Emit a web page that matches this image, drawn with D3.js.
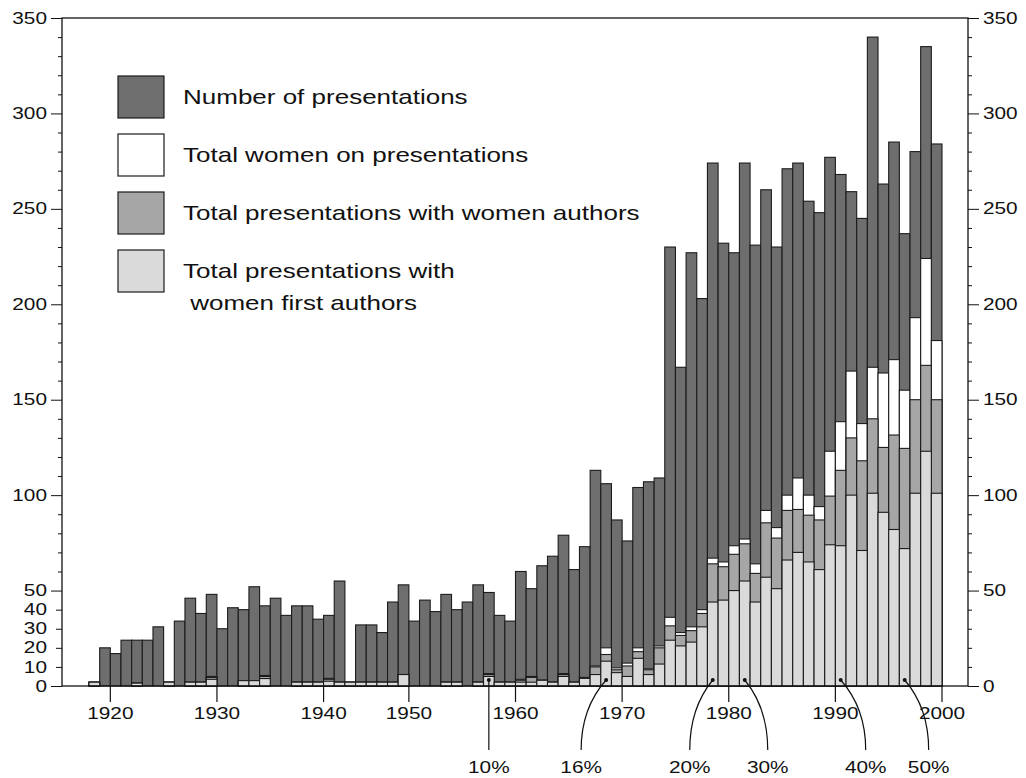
<!DOCTYPE html>
<html>
<head>
<meta charset="utf-8">
<script src="https://cdn.jsdelivr.net/npm/d3@7"></script>
<style>
body { margin: 0; background: #fff; }
text { font-family: "Liberation Sans", Arial, sans-serif; fill: #111; }
</style>
</head>
<body>
<div id="chart"></div>
<script>
// one slot per meeting year (1944, 1945 have no slot)
var years = d3.range(1918, 1940).concat([1940, 1941, 1942, 1943, 1946, 1947, 1948, 1949]).concat(d3.range(1950, 2000))

var presentations = [2,20,17,24,24,24,31,2,34,46,
    38,48,30,41,40,52,42,46,37,42,
    42,35,37,55,2,32,32,28,44,53,
    34,45,39,48,40,44,53,49,37,34,
    60,51,63,68,79,61,73,113,106,87,
    76,104,107,109,230,167,227,203,274,232,
    227,274,231,260,230,271,274,254,248,277,
    268,259,245,340,263,285,237,280,335,284]

var womenTotal = [2,0,0,0,1.5,0,0,2,0,2,
    2,5,0,0,2.8,2.8,5.5,0,0,2,
    2,2,4,2,2,2,2,2,2,6,
    0,0,0,2,2,0,2,6.5,2,2,
    3.5,5,3,2,6.5,2,4.5,10.5,20,9.5,
    12,20,9,21,36,28,31,40,67,65,
    73.5,77,64,92,83,100,109,100,94,123,
    138.5,165,137.5,167,164,171,155,193,224,181]

var womenAuthors = [2,0,0,0,1.5,0,0,2,0,2,
    2,4.5,0,0,2.8,2.8,5,0,0,2,
    2,2,3.5,2,2,2,2,2,2,6,
    0,0,0,2,2,0,2,6,2,2,
    3,4.5,3,2,6,2,4,10,16.5,8.5,
    10.5,18,8.5,20,31.5,26.5,29,38,64,62.5,
    69,74.5,59,85.5,77.5,92,92.5,89.5,87,99.5,
    113,130,118,140,125,131.5,124.5,150,168,150]

var womenFirst = [2,0,0,0,1.5,0,0,2,0,2,
    2,3.5,0,0,2.8,2.8,3.9,0,0,2,
    2,2,2.5,2,2,2,2,2,2,6,
    0,0,0,2,2,0,2,5,2,2,
    2,2,3,2,5,2,4,6,13,7,
    5,14.5,6,11.5,24,21,23,31,44,45,
    50,55,44,57,51,66,70,65,61,74,
    73.5,100,71,101,91,82,72,101,123,101]

var leftLabels = [0, 10, 20, 30, 40, 50, 100, 150, 200, 250, 300, 350]
var rightLabels = [0, 50, 100, 150, 200, 250, 300, 350]
var decades = [1920, 1930, 1940, 1950, 1960, 1970, 1980, 1990, 2000]

var pctYears = [1957, 1968, 1978, 1981, 1990, 1996]
var pctLabels = ["10%", "16%", "20%", "30%", "40%", "50%"]

var legendLabels = [["Number of presentations"], ["Total women on presentations"],
    ["Total presentations with women authors"], ["Total presentations with", " women first authors"]]

var width = 1026, height = 778
var plotL = 62, plotR = 968, bandL = 89, bandR = 942, plotTop = 18, plotBottom = 686
var sx = 1.3   // the figure's lettering is stretched sideways
var colors = ["#6e6e6e", "#ffffff", "#a6a6a6", "#dadada"]
var series = [presentations, womenTotal, womenAuthors, womenFirst]

var svg = d3.select("#chart").append("svg")
    .attr("width", width).attr("height", height)

var x = d3.scaleBand().domain(years).range([bandL, bandR]).padding(0)
var y = d3.scaleLinear().domain([0, 350]).range([plotBottom, plotTop])

function tickX(yr) {
    return years.includes(yr) ? x(yr) : x(yr - 1) + x.bandwidth()
}

// bars, drawn from the back to the front
series.forEach(function (vals, i) {
    svg.append("g").selectAll("rect")
        .data(years.map((yr, j) => ({ yr: yr, v: vals[j] })).filter(d => d.v > 0))
        .enter()
        .append("rect")
        .attr("x", d => x(d.yr))
        .attr("y", d => y(d.v))
        .attr("width", x.bandwidth())
        .attr("height", d => y(0) - y(d.v))
        .style("fill", colors[i])
        .style("stroke", "#1c1c1c")
        .style("stroke-width", 1.1)
})

// frame
svg.append("rect")
    .attr("x", plotL).attr("y", y(350))
    .attr("width", plotR - plotL).attr("height", y(0) - y(350))
    .style("fill", "none").style("stroke", "#111").style("stroke-width", 1.3)

function stretchTicks(g, xpos) {
    g.selectAll(".tick text")
        .attr("x", xpos / sx)
        .attr("transform", `scale(${sx},1)`)
}

var tens = d3.range(0, 351, 10)

var leftAxis = svg.append("g")
    .attr("transform", `translate(${plotL},0)`)
    .call(d3.axisLeft(y).tickValues(tens).tickSize(4)
        .tickFormat(d => leftLabels.includes(d) ? d : ""))
leftAxis.select(".domain").remove()
leftAxis.selectAll(".tick line")
    .attr("x2", d => d % 50 == 0 ? -11 : leftLabels.includes(d) ? -6 : -4)
    .style("stroke", "#111")
leftAxis.selectAll(".tick text").style("font-size", "16px").style("font-family", null)
stretchTicks(leftAxis, -15)

var rightAxis = svg.append("g")
    .attr("transform", `translate(${plotR},0)`)
    .call(d3.axisRight(y).tickValues(tens).tickSize(4)
        .tickFormat(d => rightLabels.includes(d) ? d : ""))
rightAxis.select(".domain").remove()
rightAxis.selectAll(".tick line")
    .attr("x2", d => d % 50 == 0 ? 11 : 4)
    .style("stroke", "#111")
rightAxis.selectAll(".tick text").style("font-size", "16px").style("font-family", null)
stretchTicks(rightAxis, 15)

// year ticks
svg.append("g").selectAll("line")
    .data(decades).enter().append("line")
    .attr("x1", d => tickX(d)).attr("x2", d => tickX(d))
    .attr("y1", plotBottom).attr("y2", plotBottom + 16)
    .style("stroke", "#111").style("stroke-width", 1.2)

svg.append("g").selectAll("text")
    .data(decades).enter().append("text")
    .attr("transform", d => `translate(${tickX(d)},${plotBottom + 33}) scale(${sx},1)`)
    .attr("text-anchor", "middle")
    .style("font-size", "16px")
    .text(d => d)

// percentage pointers
var pctShift = [0, -25, -23, 23, 25, 24]
var pointers = pctYears.map((yr, i) => ({
    x: x(yr) + x.bandwidth() / 2, lx: x(yr) + x.bandwidth() / 2 + pctShift[i], label: pctLabels[i]
}))

svg.append("g").selectAll("path")
    .data(pointers).enter().append("path")
    .attr("d", function (d) {
        var p = d3.path()
        p.moveTo(d.lx, 750)
        p.quadraticCurveTo(d.lx, 708, d.x, plotBottom - 6)
        return p.toString()
    })
    .style("fill", "none").style("stroke", "#111").style("stroke-width", 1.2)

svg.append("g").selectAll("circle")
    .data(pointers).enter().append("circle")
    .attr("cx", d => d.x).attr("cy", plotBottom - 6).attr("r", 2)
    .style("fill", "#111")

svg.append("g").selectAll("text")
    .data(pointers).enter().append("text")
    .attr("transform", d => `translate(${d.lx},773) scale(${sx},1)`)
    .attr("text-anchor", "middle")
    .style("font-size", "16px")
    .text(d => d.label)

// legend
var legend = svg.append("g")
legendLabels.forEach(function (lines, i) {
    var y0 = 76 + i * 58
    legend.append("rect")
        .attr("x", 118).attr("y", y0)
        .attr("width", 46).attr("height", 42)
        .style("fill", colors[i]).style("stroke", "#1c1c1c").style("stroke-width", 1.2)
    lines.forEach(function (s, k) {
        legend.append("text")
            .attr("transform", `translate(183,${y0 + 28 + k * 32}) scale(${sx},1)`)
            .attr("xml:space", "preserve")
            .style("font-size", "20px")
            .style("white-space", "pre")
            .text(s)
    })
})
</script>
</body>
</html>
